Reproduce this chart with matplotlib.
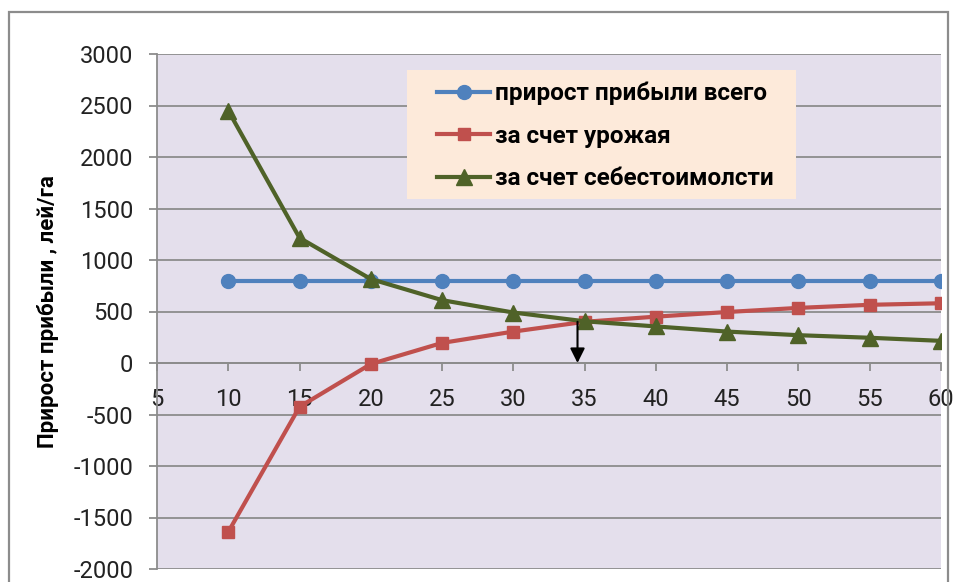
import matplotlib
matplotlib.use('Agg')
import matplotlib.pyplot as plt
from matplotlib.patches import Rectangle

plt.rcParams['font.family'] = ['Roboto', 'DejaVu Sans']
plt.rcParams['axes.unicode_minus'] = False

# data
x_vals = [10, 15, 20, 25, 30, 35, 40, 45, 50, 55, 60]
total = [800, 800, 800, 800, 800, 800, 800, 800, 800, 800, 800]
by_yield = [-1640, -425, -10, 195, 305, 400, 450, 495, 535, 565, 580]
by_cost = [2450, 1215, 815, 610, 490, 405, 355, 305, 270, 245, 215]
labels = ['прирост прибыли всего', 'за счет урожая', 'за счет себестоимолсти']
y_label = 'Прирост прибыли , лей/га'
x_ticks = [5, 10, 15, 20, 25, 30, 35, 40, 45, 50, 55, 60]
y_ticks = [-2000, -1500, -1000, -500, 0, 500, 1000, 1500, 2000, 2500, 3000]
arrow_x = 34.5
arrow_from, arrow_to = 400, 0

fig = plt.figure(figsize=(9.58, 5.82), dpi=100)
fig.patches.append(Rectangle((9/958, -0.1), 939/958, 1.1 - 12/582, transform=fig.transFigure,
                             fill=False, edgecolor='#8c8c8c', linewidth=1.6))
ax = fig.add_axes([157/958, 1-569/582, 784/958, 515/582])
ax.set_facecolor('#E4DFEC')

ax.plot(x_vals, total, color='#4F81BD', linewidth=3, marker='o', markersize=10, label=labels[0], zorder=3)
ax.plot(x_vals, by_yield, color='#C0504D', linewidth=3, marker='s', markersize=9, label=labels[1], zorder=3)
ax.plot(x_vals, by_cost, color='#4F6228', linewidth=3, marker='^', markersize=12, label=labels[2], zorder=4)

ax.annotate('', xy=(arrow_x, arrow_to), xytext=(arrow_x, arrow_from),
            arrowprops=dict(arrowstyle='-|>', color='k', lw=1.5, mutation_scale=22, shrinkA=0, shrinkB=0), zorder=5)

ax.set_xlim(5, 60)
ax.set_ylim(-2000, 3000)
ax.set_xticks(x_ticks)
ax.set_yticks(y_ticks)
ax.yaxis.grid(True, color='#8c8c8c', linewidth=1.3)
ax.set_axisbelow(True)

for s in ['top', 'right']:
    ax.spines[s].set_visible(False)
ax.spines['left'].set_color('#8c8c8c')
ax.spines['left'].set_linewidth(1.3)
ax.spines['bottom'].set_position(('data', 0))
ax.spines['bottom'].set_color('#8c8c8c')
ax.spines['bottom'].set_linewidth(1.3)
ax.tick_params(axis='x', direction='out', length=6, width=1.3, color='#8c8c8c', labelsize=17, pad=12, labelcolor='#222222')
ax.tick_params(axis='y', direction='out', length=6, width=1.3, color='#8c8c8c', labelsize=17, pad=11, labelcolor='#222222')

ax.set_ylabel(y_label, fontsize=16, fontweight='bold', labelpad=10)

# legend box drawn separately so the padding can match
ax.add_patch(Rectangle((0.319, 0.718), 0.496, 0.251, transform=ax.transAxes,
                       facecolor='#FDEADA', edgecolor='none', zorder=6))
leg = ax.legend(loc='upper left', bbox_to_anchor=(0.357, 0.946), fontsize=17.5, frameon=False,
                handlelength=2.2, handletextpad=0.2, labelspacing=0.8, borderpad=0, borderaxespad=0)
leg.set_zorder(7)
for t in leg.get_texts():
    t.set_fontweight('bold')

fig.savefig('out.png', dpi=100)
